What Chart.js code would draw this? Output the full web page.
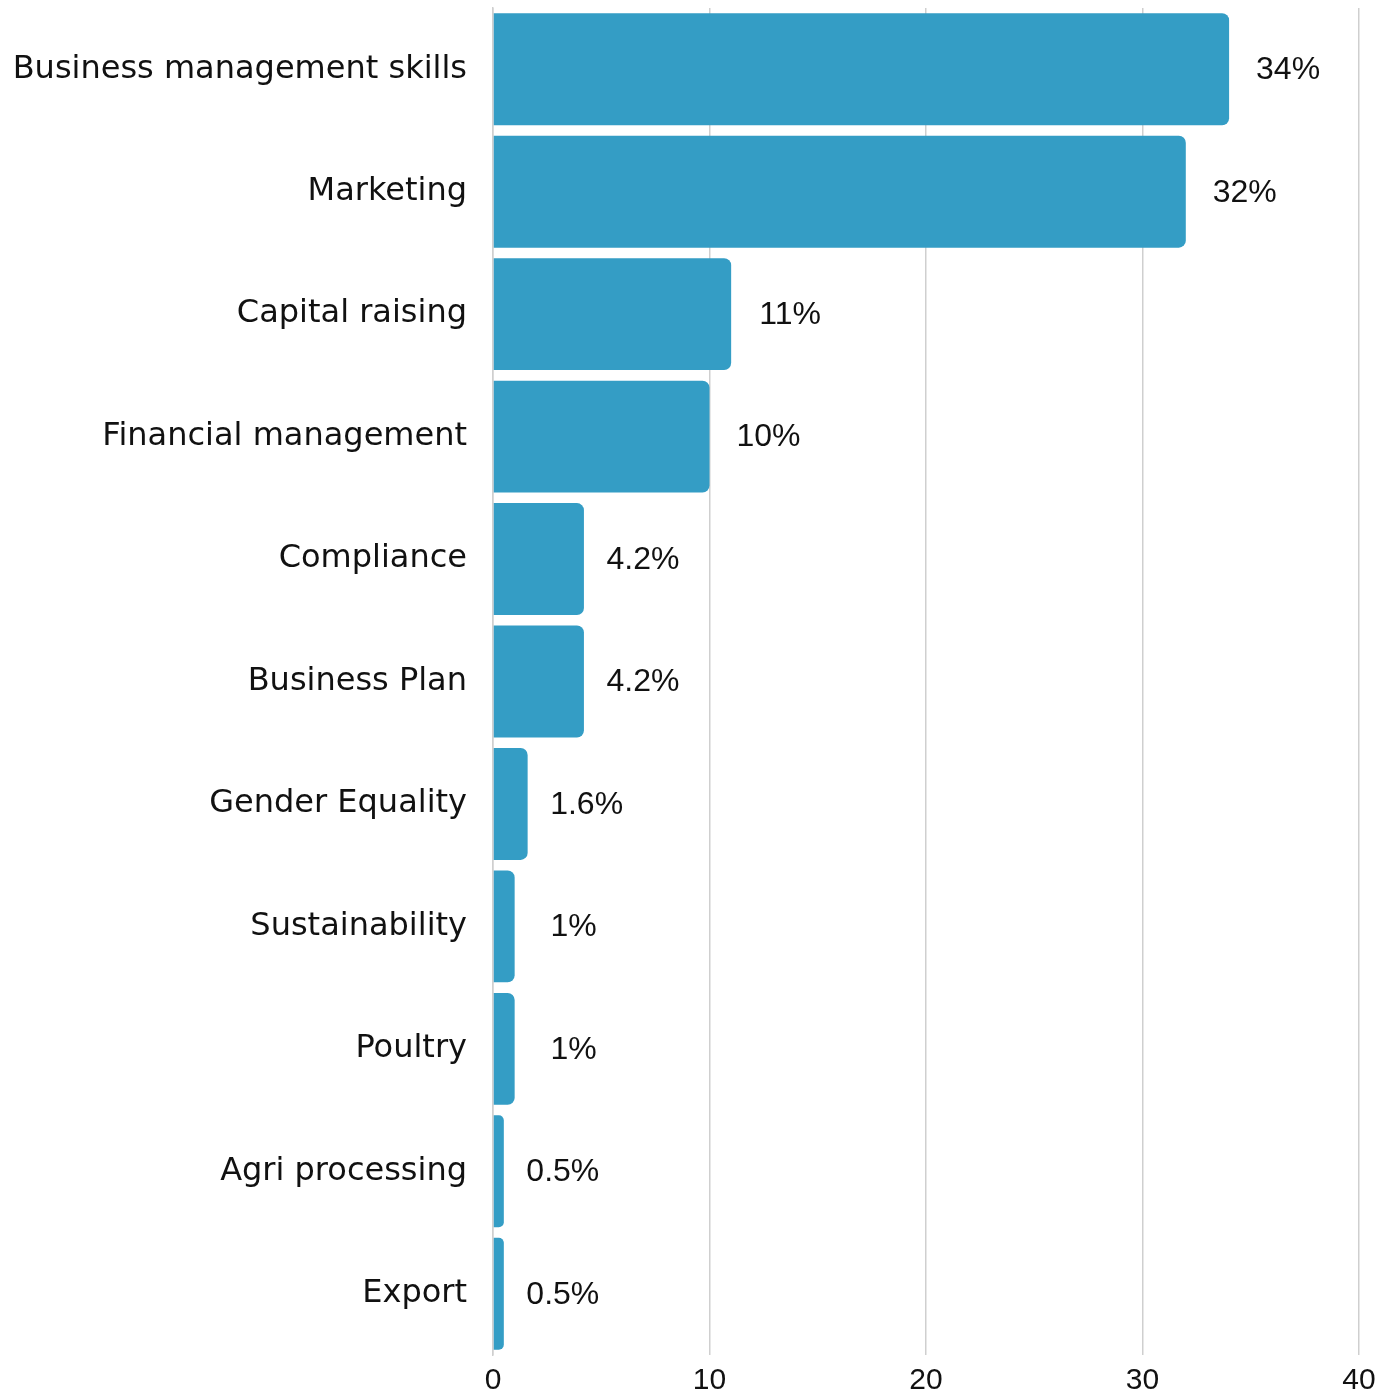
<!DOCTYPE html>
<html>
<head>
<meta charset="utf-8">
<script src="https://cdn.jsdelivr.net/npm/chart.js@4/dist/chart.umd.min.js"></script>
<style>
  html, body { margin: 0; padding: 0; background: #fff; }
  #wrap { width: 1399px; height: 1400px; position: relative; }
</style>
</head>
<body>
<div id="wrap"><canvas id="topics"></canvas></div>
<script>
var topics = [
  'Business management skills',
  'Marketing',
  'Capital raising',
  'Financial management',
  'Compliance',
  'Business Plan',
  'Gender Equality',
  'Sustainability',
  'Poultry',
  'Agri processing',
  'Export'
];
var shares = [34, 32, 11, 10, 4.2, 4.2, 1.6, 1, 1, 0.5, 0.5];
var shareLabels = ['34%', '32%', '11%', '10%', '4.2%', '4.2%', '1.6%', '1%', '1%', '0.5%', '0.5%'];

var labelFont = '"DejaVu Sans", sans-serif';
var numberFont = '"Liberation Sans", Arial, sans-serif';

// percentage text to the right of each bar
var valueLabels = {
  id: 'valueLabels',
  afterDatasetsDraw: function (chart) {
    var ctx = chart.ctx,
      meta = chart.getDatasetMeta(0);
    ctx.save();
    ctx.font = '400 32px ' + numberFont;
    ctx.fillStyle = '#111';
    ctx.textAlign = 'center';
    ctx.textBaseline = 'middle';
    meta.data.forEach(function (bar, i) {
      ctx.fillText(shareLabels[i], bar.x + 59, bar.y + 1);
    });
    ctx.restore();
  }
};

new Chart(document.getElementById('topics'), {
  type: 'bar',
  data: {
    labels: topics,
    datasets: [
      {
        data: shares,
        backgroundColor: '#349dc5',
        borderRadius: { topRight: 7, bottomRight: 7, topLeft: 0, bottomLeft: 0 },
        borderSkipped: false,
        barPercentage: 0.914,
        categoryPercentage: 1
      }
    ]
  },
  options: {
    indexAxis: 'y',
    responsive: true,
    maintainAspectRatio: false,
    animation: false,
    layout: {
      padding: { top: 8, right: 40, left: 0, bottom: 0 }
    },
    plugins: {
      legend: { display: false },
      title: { display: false },
      tooltip: { enabled: false }
    },
    scales: {
      x: {
        min: 0,
        max: 40,
        ticks: {
          stepSize: 10,
          padding: 8,
          color: '#111',
          font: { family: numberFont, size: 30 }
        },
        grid: {
          color: '#cfcfcf',
          lineWidth: 1.5,
          drawTicks: false
        },
        border: { display: false },
        afterFit: function (scale) { scale.height = 45; }
      },
      y: {
        ticks: {
          padding: 26,
          color: '#111',
          font: { family: labelFont, size: 32 }
        },
        grid: { display: false, drawTicks: false },
        border: { display: true, color: '#cfcfcf', width: 1.5 },
        afterFit: function (scale) {
          scale.width = 493;
          scale.paddingTop = 0;
          scale.paddingBottom = 0;
        }
      }
    }
  },
  plugins: [valueLabels]
});
</script>
</body>
</html>
